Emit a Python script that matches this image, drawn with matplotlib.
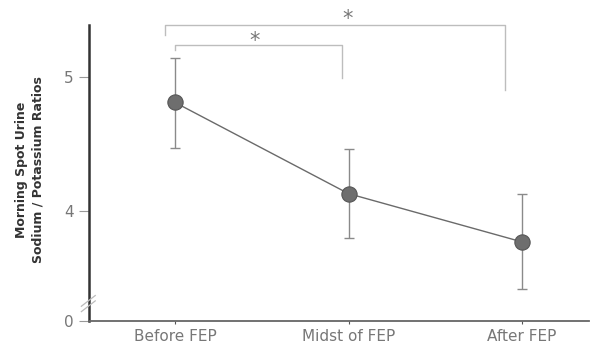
import matplotlib
matplotlib.use("Agg")
import matplotlib.pyplot as plt

# data (y axis is broken below 4)
phases = ["Before FEP", "Midst of FEP", "After FEP"]
ratio_mean = [4.81, 4.13, 3.77]
err_low = [0.34, 0.33, 0.35]
err_high = [0.33, 0.33, 0.36]
ytick_vals = [3.18, 4, 5]
ytick_text = ["0", "4", "5"]

fig = plt.figure(figsize=(5.9, 3.46), dpi=100)
ax = fig.add_axes([89 / 590, 25 / 346, 500 / 590, 296 / 346])

x = list(range(len(phases)))
ax.errorbar(x, ratio_mean, yerr=[err_low, err_high], fmt="none",
            ecolor="#8a8a8a", elinewidth=1.0, capsize=3.5, capthick=1.0, zorder=2)
ax.plot(x, ratio_mean, color="#6a6a6a", lw=1.0, zorder=3)
ax.plot(x, ratio_mean, "o", ms=11, mfc="#6e6e6e", mec="#555555", mew=0.8, zorder=4)

ax.set_xlim(-0.496, 2.386)
ax.set_ylim(3.18, 5.388)
ax.set_xticks(x)
ax.set_xticklabels(phases, fontsize=11, color="#777777")
ax.set_yticks(ytick_vals)
ax.set_yticklabels(ytick_text, fontsize=11, color="#777777")
ax.tick_params(axis="y", length=7, width=0.8, color="#999999", pad=4)
ax.tick_params(axis="x", length=2, width=0.8, color="#555555", pad=4)

for s in ["top", "right"]:
    ax.spines[s].set_visible(False)
ax.spines["left"].set_color("#333333")
ax.spines["left"].set_linewidth(1.8)
ax.spines["bottom"].set_color("#666666")
ax.spines["bottom"].set_linewidth(1.3)

# axis break marks
for off in [0, 0.04]:
    ax.plot([-0.54, -0.46], [3.25 + off, 3.33 + off], color="#bbbbbb", lw=0.9,
            clip_on=False, zorder=5)

# significance brackets
br = "#bdbdbd"
ax.plot([-0.058, -0.058, 1.902, 1.902], [5.313, 5.388, 5.388, 4.903],
        color=br, lw=1.0, clip_on=False)
ax.plot([0.0, 0.0, 0.963, 0.963], [5.20, 5.239, 5.239, 4.993],
        color=br, lw=1.0, clip_on=False)
ax.text(0.997, 5.43, "*", fontsize=15, color="#777777", ha="center", va="center",
        clip_on=False)
ax.text(0.46, 5.27, "*", fontsize=15, color="#777777", ha="center", va="center",
        clip_on=False)

fig.text(30 / 590, 1 - 170 / 346, "Morning Spot Urine\nSodium / Potassium Ratios",
         rotation=90, ha="center", va="center", multialignment="center",
         fontsize=9, fontweight="bold", color="#333333", linespacing=1.3)

fig.savefig("out.png", dpi=100)
